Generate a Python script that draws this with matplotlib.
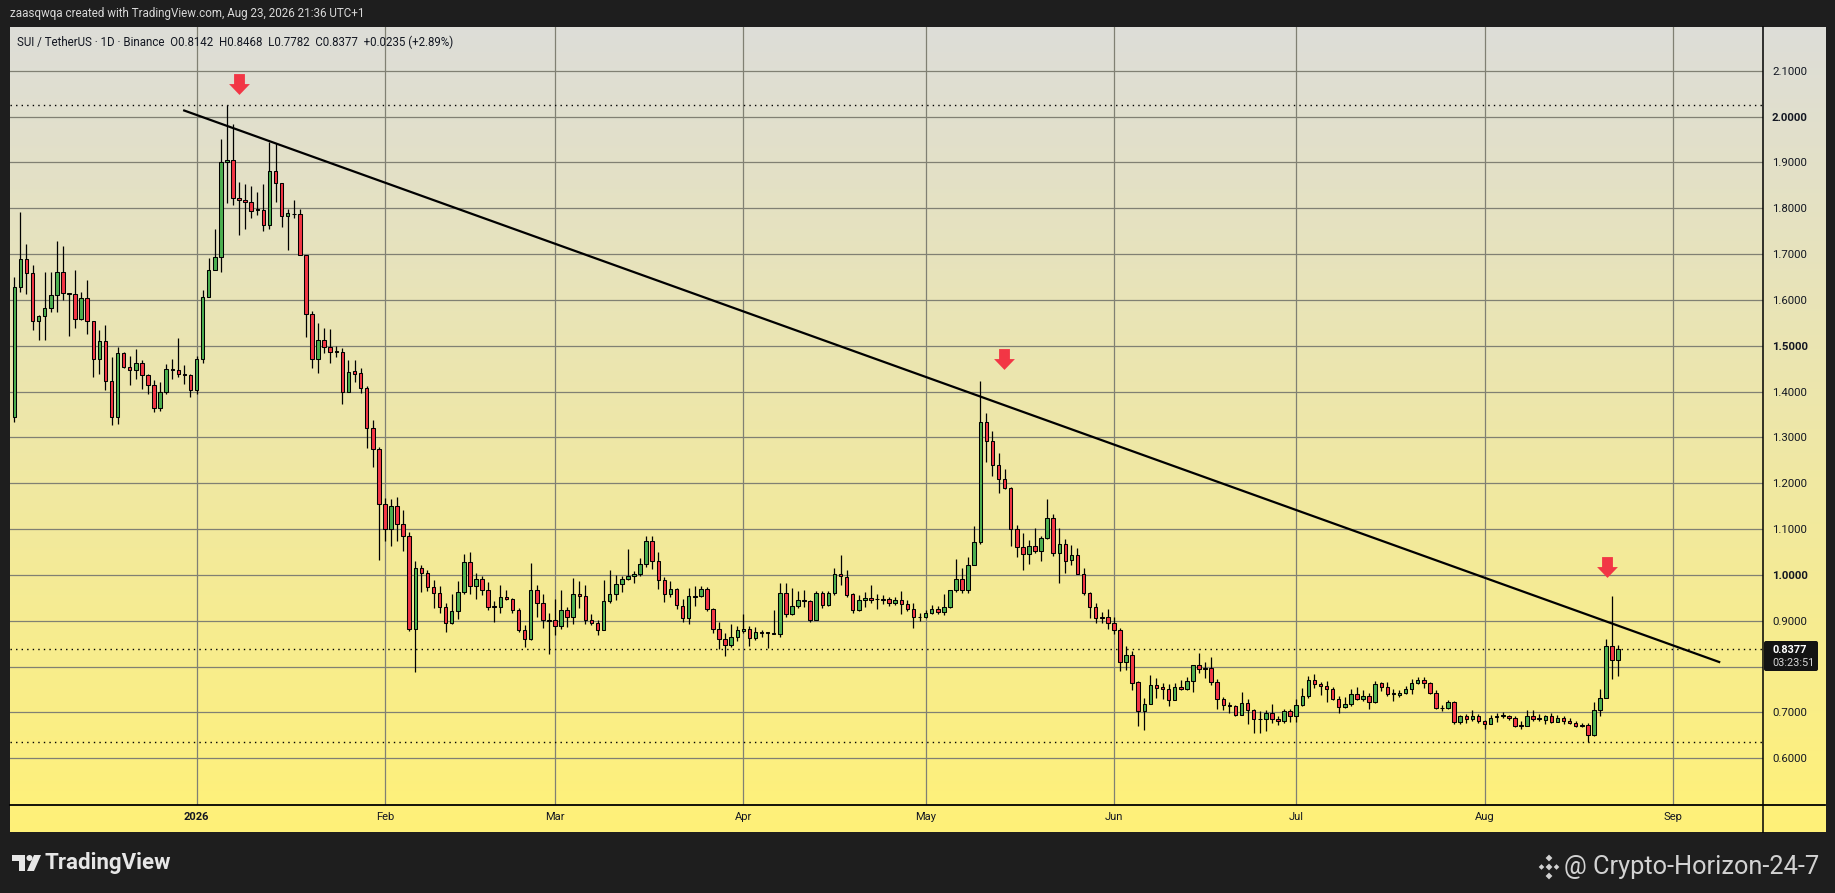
import numpy as np
import pandas as pd
import matplotlib
matplotlib.use('Agg')
import matplotlib.pyplot as plt
import matplotlib.dates as mdates
from matplotlib.path import Path
from matplotlib.patches import Rectangle, Polygon, Circle, FancyBboxPatch

plt.rcParams['font.family'] = ['Roboto', 'DejaVu Sans']

# ---------------- data ----------------
start_date = '2025-12-02'
opens = [1.344, 1.627, 1.690, 1.658, 1.554, 1.564, 1.583, 1.610, 1.660, 1.614,
         1.612, 1.559, 1.605, 1.553, 1.470, 1.511, 1.424, 1.344, 1.483, 1.454,
         1.446, 1.463, 1.437, 1.415, 1.363, 1.398, 1.450, 1.446, 1.439, 1.435,
         1.404, 1.472, 1.607, 1.666, 1.693, 1.900, 1.905, 1.822, 1.817, 1.813,
         1.797, 1.797, 1.763, 1.882, 1.854, 1.783, 1.788, 1.787, 1.697, 1.569,
         1.470, 1.512, 1.497, 1.488, 1.486, 1.400, 1.444, 1.440, 1.407, 1.321,
         1.274, 1.154, 1.101, 1.150, 1.112, 1.085, 0.882, 1.014, 1.005, 0.973,
         0.961, 0.929, 0.894, 0.922, 0.962, 1.029, 0.975, 0.992, 0.968, 0.932,
         0.930, 0.952, 0.948, 0.924, 0.879, 0.859, 0.968, 0.938, 0.902, 0.902,
         0.888, 0.924, 0.909, 0.959, 0.953, 0.902, 0.895, 0.879, 0.943, 0.959,
         0.981, 0.991, 0.998, 1.002, 1.024, 1.074, 1.030, 0.988, 0.959, 0.969,
         0.931, 0.906, 0.953, 0.953, 0.969, 0.925, 0.882, 0.860, 0.846, 0.864,
         0.878, 0.882, 0.862, 0.875, 0.873, 0.872, 0.871, 0.960, 0.915, 0.933,
         0.946, 0.943, 0.902, 0.960, 0.935, 0.960, 1.002, 0.996, 0.958, 0.923,
         0.945, 0.950, 0.947, 0.947, 0.947, 0.938, 0.945, 0.936, 0.925, 0.908,
         0.907, 0.917, 0.926, 0.920, 0.929, 0.967, 0.992, 0.968, 1.021, 1.071,
         1.333, 1.292, 1.239, 1.209, 1.189, 1.099, 1.060, 1.045, 1.064, 1.051,
         1.080, 1.123, 1.048, 1.067, 1.033, 1.043, 1.001, 0.960, 0.929, 0.907,
         0.907, 0.894, 0.880, 0.809, 0.826, 0.767, 0.702, 0.719, 0.760, 0.755,
         0.751, 0.726, 0.755, 0.750, 0.768, 0.803, 0.796, 0.797, 0.767, 0.729,
         0.716, 0.714, 0.694, 0.720, 0.705, 0.686, 0.685, 0.698, 0.685, 0.680,
         0.703, 0.691, 0.716, 0.736, 0.770, 0.762, 0.757, 0.750, 0.729, 0.711,
         0.718, 0.740, 0.729, 0.735, 0.722, 0.764, 0.755, 0.741, 0.738, 0.743,
         0.750, 0.765, 0.771, 0.765, 0.742, 0.710, 0.709, 0.723, 0.679, 0.691,
         0.685, 0.691, 0.682, 0.675, 0.690, 0.692, 0.693, 0.688, 0.673, 0.670,
         0.691, 0.687, 0.684, 0.693, 0.679, 0.688, 0.682, 0.677, 0.673, 0.673,
         0.651, 0.706, 0.732, 0.844, 0.8142]
highs = [1.650, 1.791, 1.721, 1.677, 1.567, 1.661, 1.661, 1.728, 1.717, 1.614,
         1.666, 1.618, 1.643, 1.553, 1.535, 1.546, 1.475, 1.498, 1.486, 1.477,
         1.492, 1.468, 1.439, 1.426, 1.420, 1.459, 1.472, 1.516, 1.457, 1.439,
         1.477, 1.621, 1.692, 1.755, 1.951, 2.025, 1.983, 1.857, 1.852, 1.849,
         1.835, 1.852, 1.945, 1.942, 1.856, 1.798, 1.818, 1.798, 1.697, 1.576,
         1.549, 1.538, 1.536, 1.499, 1.494, 1.469, 1.469, 1.451, 1.413, 1.338,
         1.280, 1.167, 1.165, 1.169, 1.141, 1.093, 1.030, 1.021, 1.010, 0.989,
         0.976, 0.938, 0.959, 0.986, 1.045, 1.049, 1.005, 0.998, 0.985, 0.943,
         0.978, 0.968, 0.950, 0.927, 0.890, 1.025, 0.978, 0.959, 0.917, 0.948,
         0.968, 0.930, 0.993, 0.986, 0.978, 0.914, 0.902, 0.989, 1.011, 1.000,
         0.997, 1.057, 1.008, 1.037, 1.085, 1.085, 1.050, 0.995, 0.986, 0.971,
         0.947, 0.971, 0.975, 0.976, 0.973, 0.927, 0.898, 0.873, 0.893, 0.889,
         0.915, 0.889, 0.887, 0.880, 0.875, 0.924, 0.982, 0.982, 0.971, 0.964,
         0.966, 0.946, 0.965, 0.964, 0.964, 1.015, 1.044, 1.011, 0.961, 0.956,
         0.963, 0.978, 0.958, 0.956, 0.952, 0.952, 0.965, 0.945, 0.938, 0.917,
         0.923, 0.934, 0.931, 0.958, 0.967, 1.034, 1.014, 1.040, 1.107, 1.422,
         1.353, 1.313, 1.265, 1.230, 1.191, 1.109, 1.091, 1.075, 1.102, 1.085,
         1.165, 1.133, 1.102, 1.078, 1.065, 1.058, 1.016, 0.963, 0.938, 0.920,
         0.925, 0.907, 0.884, 0.845, 0.833, 0.769, 0.731, 0.782, 0.776, 0.764,
         0.762, 0.764, 0.770, 0.778, 0.803, 0.829, 0.810, 0.821, 0.772, 0.733,
         0.722, 0.716, 0.744, 0.729, 0.708, 0.703, 0.705, 0.718, 0.692, 0.708,
         0.708, 0.730, 0.753, 0.780, 0.784, 0.767, 0.769, 0.755, 0.735, 0.733,
         0.751, 0.755, 0.749, 0.743, 0.769, 0.767, 0.767, 0.751, 0.749, 0.757,
         0.773, 0.777, 0.778, 0.766, 0.748, 0.717, 0.726, 0.725, 0.695, 0.697,
         0.706, 0.697, 0.684, 0.695, 0.698, 0.701, 0.695, 0.691, 0.680, 0.706,
         0.704, 0.697, 0.695, 0.699, 0.695, 0.691, 0.688, 0.682, 0.677, 0.677,
         0.722, 0.752, 0.861, 0.953, 0.8468]
lows = [1.334, 1.618, 1.613, 1.534, 1.512, 1.512, 1.573, 1.573, 1.600, 1.521,
        1.539, 1.556, 1.526, 1.432, 1.439, 1.403, 1.326, 1.330, 1.452, 1.415,
        1.427, 1.406, 1.395, 1.355, 1.358, 1.395, 1.428, 1.432, 1.417, 1.388,
        1.395, 1.462, 1.607, 1.666, 1.661, 1.811, 1.806, 1.742, 1.754, 1.779,
        1.785, 1.750, 1.755, 1.813, 1.758, 1.709, 1.778, 1.697, 1.520, 1.451,
        1.441, 1.483, 1.463, 1.476, 1.372, 1.398, 1.421, 1.396, 1.277, 1.236,
        1.032, 1.074, 1.063, 1.074, 1.053, 0.878, 0.788, 0.963, 0.965, 0.927,
        0.916, 0.876, 0.892, 0.903, 0.959, 0.959, 0.948, 0.956, 0.924, 0.898,
        0.917, 0.945, 0.916, 0.876, 0.843, 0.858, 0.908, 0.883, 0.828, 0.868,
        0.881, 0.887, 0.893, 0.928, 0.893, 0.890, 0.868, 0.879, 0.938, 0.946,
        0.962, 0.988, 0.982, 0.997, 1.017, 1.013, 0.969, 0.940, 0.952, 0.925,
        0.897, 0.893, 0.933, 0.952, 0.922, 0.874, 0.838, 0.822, 0.842, 0.855,
        0.873, 0.844, 0.858, 0.864, 0.840, 0.870, 0.864, 0.909, 0.913, 0.928,
        0.930, 0.898, 0.901, 0.928, 0.931, 0.957, 0.978, 0.952, 0.917, 0.922,
        0.929, 0.938, 0.925, 0.936, 0.932, 0.934, 0.915, 0.922, 0.883, 0.900,
        0.905, 0.915, 0.915, 0.912, 0.927, 0.963, 0.961, 0.960, 1.021, 1.067,
        1.247, 1.216, 1.179, 1.187, 1.062, 1.038, 1.011, 1.024, 1.047, 1.031,
        1.078, 1.042, 0.983, 1.005, 1.022, 1.001, 0.956, 0.905, 0.894, 0.894,
        0.881, 0.870, 0.791, 0.793, 0.749, 0.671, 0.662, 0.718, 0.731, 0.730,
        0.714, 0.726, 0.749, 0.749, 0.745, 0.786, 0.774, 0.759, 0.708, 0.704,
        0.698, 0.691, 0.694, 0.674, 0.655, 0.655, 0.660, 0.676, 0.673, 0.676,
        0.679, 0.679, 0.713, 0.731, 0.753, 0.738, 0.722, 0.726, 0.698, 0.709,
        0.713, 0.726, 0.724, 0.708, 0.720, 0.746, 0.735, 0.724, 0.733, 0.739,
        0.739, 0.762, 0.754, 0.739, 0.708, 0.703, 0.708, 0.675, 0.675, 0.677,
        0.681, 0.677, 0.664, 0.675, 0.679, 0.688, 0.684, 0.668, 0.663, 0.670,
        0.682, 0.682, 0.674, 0.677, 0.679, 0.674, 0.674, 0.668, 0.668, 0.635,
        0.648, 0.692, 0.732, 0.773, 0.7782]
closes = [1.627, 1.690, 1.658, 1.554, 1.564, 1.583, 1.610, 1.660, 1.614, 1.612,
          1.559, 1.605, 1.553, 1.470, 1.511, 1.424, 1.344, 1.483, 1.454, 1.446,
          1.463, 1.435, 1.415, 1.363, 1.398, 1.450, 1.446, 1.439, 1.435, 1.404,
          1.472, 1.607, 1.666, 1.693, 1.900, 1.905, 1.822, 1.817, 1.813, 1.795,
          1.797, 1.763, 1.882, 1.854, 1.782, 1.789, 1.787, 1.697, 1.569, 1.470,
          1.512, 1.497, 1.487, 1.487, 1.400, 1.443, 1.439, 1.407, 1.321, 1.274,
          1.154, 1.101, 1.150, 1.112, 1.085, 0.882, 1.014, 1.005, 0.973, 0.961,
          0.929, 0.894, 0.922, 0.962, 1.029, 0.975, 0.992, 0.968, 0.929, 0.930,
          0.952, 0.948, 0.924, 0.879, 0.859, 0.968, 0.938, 0.901, 0.900, 0.888,
          0.923, 0.909, 0.959, 0.953, 0.902, 0.895, 0.879, 0.943, 0.959, 0.981,
          0.991, 0.998, 1.002, 1.024, 1.074, 1.030, 0.988, 0.959, 0.969, 0.935,
          0.906, 0.953, 0.952, 0.969, 0.925, 0.882, 0.860, 0.846, 0.864, 0.880,
          0.882, 0.862, 0.875, 0.874, 0.873, 0.871, 0.960, 0.915, 0.933, 0.946,
          0.943, 0.902, 0.960, 0.935, 0.960, 1.002, 0.997, 0.955, 0.923, 0.945,
          0.950, 0.945, 0.947, 0.946, 0.938, 0.945, 0.936, 0.925, 0.907, 0.907,
          0.917, 0.926, 0.920, 0.929, 0.967, 0.992, 0.968, 1.021, 1.071, 1.333,
          1.292, 1.239, 1.209, 1.189, 1.099, 1.060, 1.045, 1.064, 1.051, 1.080,
          1.123, 1.048, 1.067, 1.031, 1.043, 1.001, 0.960, 0.929, 0.905, 0.905,
          0.894, 0.880, 0.809, 0.826, 0.765, 0.702, 0.719, 0.760, 0.754, 0.750,
          0.726, 0.755, 0.750, 0.768, 0.803, 0.794, 0.794, 0.767, 0.729, 0.715,
          0.714, 0.694, 0.720, 0.705, 0.685, 0.685, 0.698, 0.685, 0.680, 0.703,
          0.691, 0.716, 0.736, 0.770, 0.762, 0.757, 0.750, 0.729, 0.711, 0.718,
          0.740, 0.729, 0.735, 0.722, 0.762, 0.755, 0.740, 0.740, 0.743, 0.750,
          0.765, 0.771, 0.765, 0.742, 0.709, 0.709, 0.723, 0.679, 0.691, 0.685,
          0.691, 0.682, 0.675, 0.688, 0.691, 0.692, 0.688, 0.670, 0.671, 0.691,
          0.685, 0.686, 0.693, 0.679, 0.688, 0.682, 0.677, 0.670, 0.671, 0.651,
          0.706, 0.732, 0.844, 0.8142, 0.8377]

month_ticks = ['2026-01-01', '2026-02-01', '2026-03-01', '2026-04-01', '2026-05-01',
               '2026-06-01', '2026-07-01', '2026-08-01', '2026-09-01']
month_labels = ['2026', 'Feb', 'Mar', 'Apr', 'May', 'Jun', 'Jul', 'Aug', 'Sep']
price_ticks = [0.6, 0.7, 0.8, 0.9, 1.0, 1.1, 1.2, 1.3, 1.4, 1.5, 1.6, 1.7, 1.8, 1.9, 2.0, 2.1]
bold_prices = [1.0, 1.5, 2.0]
hidden_price_labels = [0.8]   # covered by the last-price label

trend_dates = ['2025-12-29 19:00', '2026-09-08 19:00']
trend_prices = [2.014, 0.809]
hline_prices = [2.0245, 0.635]
arrow_dates = ['2026-01-07 22:00', '2026-05-13 22:00', '2026-08-21 02:00']
arrow_prices = [2.070, 1.471, 1.017]

x_range = ['2025-12-01 07:00', '2026-09-15 20:00']
y_range = [0.4978, 2.1954]

header_text = 'zaasqwqa created with TradingView.com, Aug 23, 2026 21:36 UTC+1'
legend_text = 'SUI / TetherUS \u00b7 1D \u00b7 Binance  O0.8142  H0.8468  L0.7782  C0.8377  +0.0235 (+2.89%)'
countdown = '03:23:51'

# ---------------- figure ----------------
W, H = 1835, 893
fig = plt.figure(figsize=(W / 100, H / 100), dpi=100, facecolor='#1e1e1e')

def frac(x0, y0, x1, y1):
    return [x0 / W, 1 - y1 / H, (x1 - x0) / W, (y1 - y0) / H]

# background gradient panel (pixel coords)
bg = fig.add_axes([0, 0, 1, 1], zorder=0)
bg.set_xlim(0, W); bg.set_ylim(H, 0); bg.axis('off')
top_c = np.array([221, 221, 216]) / 255
bot_c = np.array([255, 241, 120]) / 255
t = np.linspace(0, 1, 400)[:, None, None]
grad = top_c[None, None, :] * (1 - t) + bot_c[None, None, :] * t
bg.imshow(grad, extent=(10, 1825, 832, 27), aspect='auto', origin='upper',
          interpolation='bilinear')

# main price axes
ax = fig.add_axes(frac(10, 27, 1763, 805), zorder=2)
ax.set_facecolor('none')
for s in ax.spines.values():
    s.set_visible(False)

dates = pd.date_range(start_date, periods=len(closes), freq='D')
x = mdates.date2num(dates)
o = np.array(opens); h = np.array(highs); l = np.array(lows); c = np.array(closes)
up = c >= o
colors = np.where(up, '#4caf50', '#f23645')
ax.vlines(x, l, h, color='black', lw=0.9, zorder=3)
bottoms = np.minimum(o, c)
heights = np.maximum(np.abs(c - o), 0.0012)
ax.bar(x, heights, bottom=bottoms, width=0.58, color=colors, edgecolor='black',
       linewidth=0.75, zorder=4)

# trend line
tx = mdates.date2num(pd.to_datetime(trend_dates))
ax.plot(tx, trend_prices, color='black', lw=1.6, zorder=5, solid_capstyle='butt')

# horizontal dotted lines
for p in hline_prices + [closes[-1]]:
    ax.axhline(p, color='black', lw=1.0, linestyle=(0, (1, 3)), zorder=2)

# arrows
arrow_path = Path([(-0.26, 0.5), (0.26, 0.5), (0.26, 0.02), (0.5, 0.02), (0.0, -0.5),
                   (-0.5, 0.02), (-0.26, 0.02), (-0.26, 0.5)],
                  [Path.MOVETO] + [Path.LINETO] * 6 + [Path.CLOSEPOLY])
ax.plot(mdates.date2num(pd.to_datetime(arrow_dates)), arrow_prices, linestyle='none',
        marker=arrow_path, markersize=15, color='#f23645', markeredgewidth=0, zorder=6)

ax.set_xlim(mdates.date2num(pd.to_datetime(x_range)))
ax.set_ylim(*y_range)

# grid & ticks
ax.set_axisbelow(True)
ax.set_xticks(mdates.date2num(pd.to_datetime(month_ticks)), labels=month_labels)
ax.yaxis.tick_right()
ylabels = ['' if any(abs(p - q) < 1e-9 for q in hidden_price_labels) else f'{p:.4f}'
           for p in price_ticks]
ax.set_yticks(price_ticks, labels=ylabels)
ax.grid(True, color=(0.5, 0.5, 0.45, 0.11), lw=0.9, zorder=1)
ax.tick_params(axis='x', length=0, pad=5, labelsize=8, labelcolor='#131722')
ax.tick_params(axis='y', length=0, pad=6.5, labelsize=8.2, labelcolor='#131722')
for lab, p in zip(ax.get_yticklabels(), price_ticks):
    if any(abs(p - b) < 1e-9 for b in bold_prices):
        lab.set_fontweight('bold')
ax.get_xticklabels()[0].set_fontweight('bold')

# overlay (pixel coords)
ov = fig.add_axes([0, 0, 1, 1], zorder=3)
ov.set_xlim(0, W); ov.set_ylim(H, 0); ov.axis('off'); ov.set_facecolor('none')
ov.plot([1763, 1763], [27, 832], color='black', lw=1.1)
ov.plot([10, 1825], [805, 805], color='black', lw=1.3)

# current price label
ov.add_patch(FancyBboxPatch((1764, 641), 54, 30, boxstyle='round,pad=0,rounding_size=2',
                            facecolor='#131313', edgecolor='none'))
ov.text(1772, 650, f'{closes[-1]:.4f}', color='white', fontsize=7.8, fontweight='bold',
        ha='left', va='center')
ov.text(1772, 663, countdown, color='#d6d6d6', fontsize=7.8, ha='left', va='center')

# header and legend
ov.text(10, 14, header_text, color='#d9d9d9', fontsize=8.4, ha='left', va='center')
ov.text(17, 42, legend_text, color='#131722', fontsize=8.3, ha='left', va='center')

# TradingView logo
lc = '#e6e6e6'
ov.add_patch(Polygon([(12, 855), (25, 855), (25, 871), (19, 871), (19, 861), (12, 861)],
                     closed=True, facecolor=lc, edgecolor='none'))
ov.add_patch(Circle((29.5, 858), 3.0, facecolor=lc, edgecolor='none'))
ov.add_patch(Polygon([(34, 855), (41, 855), (34, 871), (27, 871)], closed=True,
                     facecolor=lc, edgecolor='none'))
ov.text(44, 863, 'TradingView', color=lc, fontsize=16, fontweight='bold',
        ha='left', va='center')

# watermark with diamond logo
wc = '#d2d2d2'
cx, cy = 1549, 867
for dx, dy, r in [(0, 0, 3.4), (0, -9, 3.4), (0, 9, 3.4), (-7.5, 0, 2.8), (7.5, 0, 2.8)]:
    ov.add_patch(Polygon([(cx + dx, cy + dy - r), (cx + dx + r, cy + dy),
                          (cx + dx, cy + dy + r), (cx + dx - r, cy + dy)],
                         closed=True, facecolor=wc, edgecolor='none'))
ov.text(1564, 867, '@ Crypto-Horizon-24-7', color=wc, fontsize=18.3, ha='left', va='center')

fig.savefig('out.png', dpi=100, facecolor=fig.get_facecolor())
